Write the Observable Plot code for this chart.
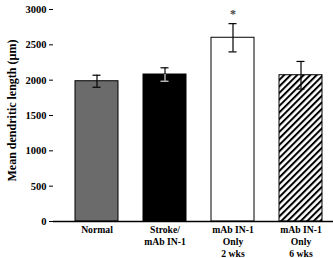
<!DOCTYPE html>
<html>
<head>
<meta charset="utf-8">
<script src="https://cdn.jsdelivr.net/npm/d3@7"></script>
<script src="https://cdn.jsdelivr.net/npm/@observablehq/plot@0.6"></script>
<style>
  html, body { margin: 0; padding: 0; background: #fff; }
  #chart svg { display: block; }
</style>
</head>
<body>
<div id="chart"></div>
<script>
// Groups, mean dendritic length (µm) and error (±)
const groups = ["Normal", "Stroke/\nmAb IN-1", "mAb IN-1\nOnly\n2 wks", "mAb IN-1\nOnly\n6 wks"];
const means = [1985, 2080, 2600, 2070];
const errors = [85, 95, 200, 195];
const fills = ["#6b6b6b", "#000000", "#ffffff", "url(#hatch)"];
const lowerWhisker = ["#000", "#ddd", "#000", "#000"];
const marks = ["", "", "*", ""];
const yTicks = [0, 500, 1000, 1500, 2000, 2500, 3000];

const data = groups.map((g, i) => ({
  group: g, mean: means[i], err: errors[i], fill: fills[i],
  lower: lowerWhisker[i], mark: marks[i]
}));

const font = "'Liberation Serif', 'Times New Roman', serif";

const chart = Plot.plot({
  width: 333,
  height: 258,
  marginLeft: 53,
  marginRight: 0,
  marginTop: 9,
  marginBottom: 37,
  style: { fontFamily: font, fontWeight: "bold", fontSize: "10px", background: "#fff" },
  x: { domain: groups, range: [53, 343], paddingInner: 0.374, paddingOuter: 0.296, label: null, axis: null },
  y: { domain: [0, 3000], ticks: yTicks, label: null, axis: null },
  marks: [
    Plot.barY(data, { x: "group", y: "mean", fill: d => d.fill, stroke: "#000", strokeWidth: 1 }),
    // whiskers: upper half above the bar, lower half inside it
    Plot.ruleX(data, { x: "group", y1: "mean", y2: d => d.mean + d.err, stroke: "#000", strokeWidth: 1.2 }),
    Plot.ruleX(data, { x: "group", y1: d => d.mean - d.err, y2: "mean", stroke: d => d.lower, strokeWidth: 1.2 }),
    Plot.tickY(data, { x: "group", y: d => d.mean + d.err, stroke: "#000", strokeWidth: 1.2, inset: 17.5 }),
    Plot.tickY(data, { x: "group", y: d => d.mean - d.err, stroke: d => d.lower, strokeWidth: 1.2, inset: 17.5 }),
    Plot.text(data, { x: "group", y: d => d.mean + d.err, text: "mark", dy: -9, fontSize: 12, fill: "#444" }),
    // axes
    Plot.ruleY([0], { stroke: "#000", strokeWidth: 1.3 }),
    Plot.axisY({ ticks: yTicks, tickFormat: d3.format("d"), tickSize: 4, tickPadding: 3, stroke: "#000", fill: "#000", fontSize: 10.5, fontWeight: "bold" }),
    Plot.ruleX([0], { x: () => 53, y1: 0, y2: 3000, stroke: "#000", strokeWidth: 1.3 }),
    Plot.axisX({ tickSize: 0, tickPadding: 3, fontSize: 9.7, fontWeight: "bold", lineHeight: 1.24 }),
    Plot.text(["Mean dendritic length (\u00b5m)"], {
      frameAnchor: "left", rotate: -90, dx: -41, dy: -5, textAnchor: "middle", fontSize: 12, fontWeight: "bold"
    })
  ]
});

// diagonal hatch pattern for the last bar
const svg = d3.select(chart);
const defs = svg.insert("defs", ":first-child");
const pat = defs.append("pattern")
  .attr("id", "hatch")
  .attr("patternUnits", "userSpaceOnUse")
  .attr("width", 4.6).attr("height", 4.6)
  .attr("patternTransform", "rotate(45)");
pat.append("rect").attr("width", 4.6).attr("height", 4.6).attr("fill", "#fff");
pat.append("line").attr("x1", 1).attr("y1", 0).attr("x2", 1).attr("y2", 4.6)
  .attr("stroke", "#000").attr("stroke-width", 2);

document.getElementById("chart").appendChild(chart);
</script>
</body>
</html>
